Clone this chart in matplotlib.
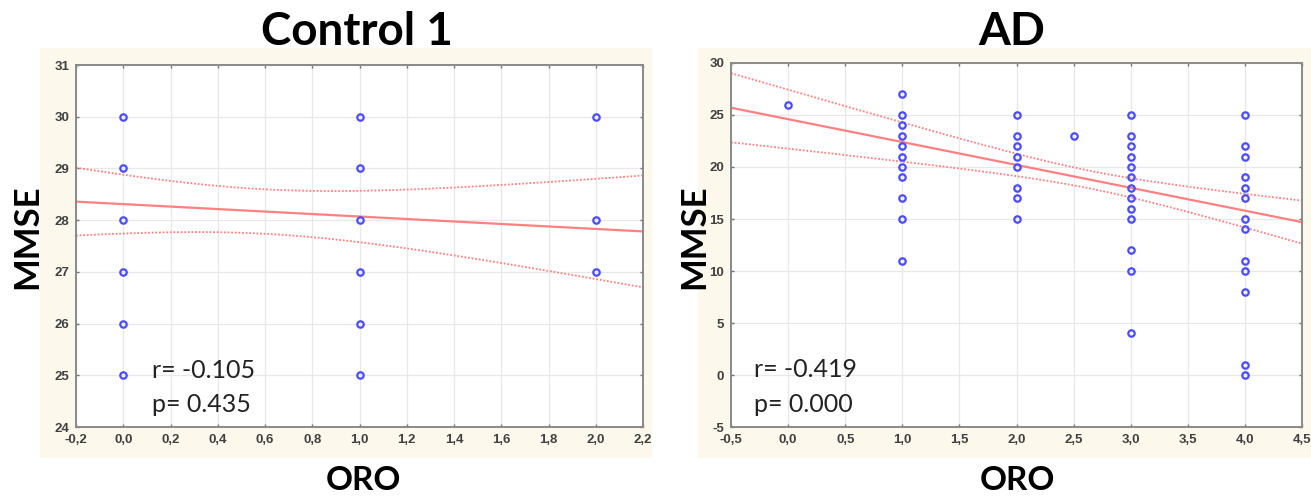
import numpy as np
import matplotlib
matplotlib.use('Agg')
import matplotlib.pyplot as plt
from matplotlib.patches import Rectangle

# ---- data ----
ctrl_x = [0, 0, 0, 0, 0, 0, 1, 1, 1, 1, 1, 1, 2, 2, 2]
ctrl_y = [30, 29, 28, 27, 26, 25, 30, 29, 28, 27, 26, 25, 30, 28, 27]

ad_x = [0,
        1, 1, 1, 1, 1, 1, 1, 1, 1, 1, 1,
        2, 2, 2, 2, 2, 2, 2, 2,
        2.5,
        3, 3, 3, 3, 3, 3, 3, 3, 3, 3, 3, 3, 3,
        4, 4, 4, 4, 4, 4, 4, 4, 4, 4, 4, 4, 4]
ad_y = [26,
        27, 25, 24, 23, 22, 21, 20, 19, 17, 15, 11,
        25, 23, 22, 21, 20, 18, 17, 15,
        23,
        25, 23, 22, 21, 20, 19, 18, 17, 16, 15, 12, 10, 4,
        25, 22, 21, 19, 18, 17, 15, 14, 11, 10, 8, 1, 0]

# regression fit: intercept, slope; band: x centre, half width at centre, slope of spread
ctrl_fit = (28.31, -0.24)
ctrl_band = (0.6, 0.43, 0.62)
ad_fit = (24.6, -2.2)
ad_band = (2.65, 0.85, 1.02)

ctrl_stats = ["r= -0.105", "p= 0.435"]
ad_stats = ["r= -0.419", "p= 0.000"]

W, H = 1311, 497
fig = plt.figure(figsize=(W / 100, H / 100), dpi=100)

# tan background panels behind each chart
for x0, x1 in [(40, 652), (698, 1311)]:
    fig.patches.append(Rectangle((x0 / W, (H - 458) / H), (x1 - x0) / W, (458 - 48) / H,
                                 transform=fig.transFigure, facecolor='#fcf8ec',
                                 edgecolor='none', zorder=-5))


def panel(rect, xs, ys, fit, band, stats, xlim, ylim, xticks, yticks, title,
          title_x, ylabel_x, xlabel_x):
    ax = fig.add_axes(rect)
    ax.set_facecolor('white')
    ax.set_xlim(*xlim)
    ax.set_ylim(*ylim)
    ax.set_xticks(xticks)
    ax.set_yticks(yticks)
    ax.set_xticklabels([f"{v:.1f}".replace('.', ',') for v in xticks])
    ax.set_yticklabels([f"{v:g}" for v in yticks])
    ax.grid(True, color='#e8e8e8', linewidth=0.9)
    ax.set_axisbelow(True)
    for s in ax.spines.values():
        s.set_color('#8a8a8a')
        s.set_linewidth(1.4)
    ax.tick_params(direction='in', length=2.5, width=1, color='#707070',
                   top=True, right=True, labelsize=9.5, labelcolor='#404040', pad=5)
    for lab in ax.get_xticklabels() + ax.get_yticklabels():
        lab.set_fontfamily('Liberation Sans')
        lab.set_fontweight('bold')

    a, b = fit
    xm, h0, hs = band
    xx = np.linspace(xlim[0], xlim[1], 200)
    yy = a + b * xx
    hw = np.sqrt(h0 ** 2 + hs ** 2 * (xx - xm) ** 2)
    ax.plot(xx, yy, color='#ff8080', linewidth=1.6, zorder=2)
    ax.plot(xx, yy + hw, color='#ff8080', linewidth=1.3, linestyle=(0, (1, 1)), zorder=2)
    ax.plot(xx, yy - hw, color='#ff8080', linewidth=1.3, linestyle=(0, (1, 1)), zorder=2)

    ax.plot(xs, ys, linestyle='none', marker='o', markersize=4.6, markerfacecolor='none',
            markeredgecolor='#4b4bff', markeredgewidth=1.6, zorder=3)

    tx = 0.134 if title != 'AD' else 0.04
    ax.text(tx, 0.157, stats[0], transform=ax.transAxes, fontsize=18, family='Lato',
            color='#222222', va='center', ha='left')
    ax.text(tx, 0.061, stats[1], transform=ax.transAxes, fontsize=18, family='Lato',
            color='#222222', va='center', ha='left')

    fig.text(title_x / W, 1 - 32 / H, title, fontsize=33, fontweight='bold', family='Lato',
             ha='center', va='center')
    fig.text(ylabel_x / W, 1 - 237 / H, 'MMSE', fontsize=25, fontweight='bold', family='Lato',
             rotation=90, ha='center', va='center')
    fig.text(xlabel_x / W, 1 - 481 / H, 'ORO', fontsize=24, fontweight='bold', family='Lato',
             ha='center', va='center')
    return ax


panel([76 / W, (H - 427) / H, 567 / W, 362 / H], ctrl_x, ctrl_y, ctrl_fit, ctrl_band,
      ctrl_stats, (-0.2, 2.2), (24, 31), [-0.2, 0, 0.2, 0.4, 0.6, 0.8, 1.0, 1.2, 1.4, 1.6, 1.8, 2.0, 2.2],
      list(range(24, 32)), 'Control 1', 357, 27, 363)
panel([731 / W, (H - 427) / H, 571 / W, 364 / H], ad_x, ad_y, ad_fit, ad_band,
      ad_stats, (-0.5, 4.5), (-5, 30), [-0.5, 0, 0.5, 1.0, 1.5, 2.0, 2.5, 3.0, 3.5, 4.0, 4.5],
      list(range(-5, 31, 5)), 'AD', 1012, 694, 1017)

fig.savefig('out.png', dpi=100)
